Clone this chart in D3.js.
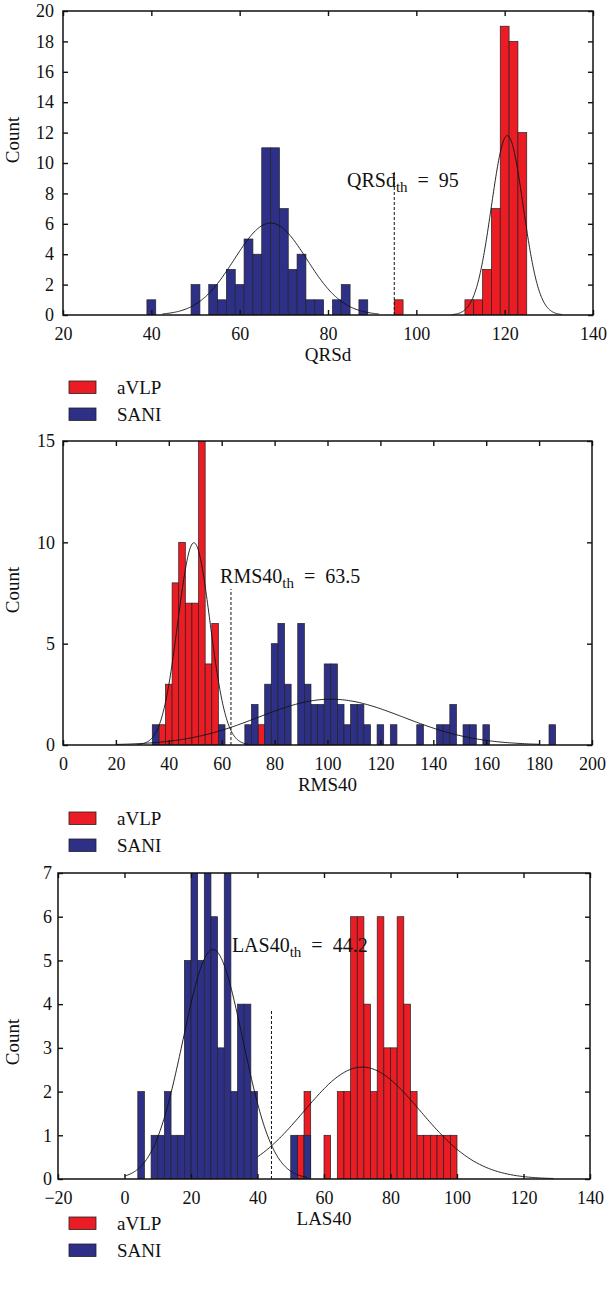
<!DOCTYPE html>
<html lang="en">
<head>
<meta charset="UTF-8">
<title>aVLP / SANI histograms</title>
<script src="https://d3js.org/d3.v7.min.js"></script>
<style>
  body { margin: 0; background: #fff; }
  svg text { font-family: "Liberation Serif", "DejaVu Serif", serif; fill: #111; }
</style>
</head>
<body>
<div id="chart"></div>
<script>
// ---- QRSd ----
const qrsdAvlpX = [96, 112, 114, 116, 118, 120, 122, 124];
const qrsdAvlpN = [1, 1, 1, 3, 7, 19, 18, 12];
const qrsdSaniX = [40, 50, 54, 56, 58, 60, 62, 64, 66, 68, 70, 72, 74, 76, 78, 82, 84, 88];
const qrsdSaniN = [1, 2, 2, 1, 3, 2, 5, 4, 11, 11, 7, 3, 4, 1, 1, 1, 2, 1];
const qrsdXTicks = [20, 40, 60, 80, 100, 120, 140];
const qrsdYTicks = [0, 2, 4, 6, 8, 10, 12, 14, 16, 18, 20];
// fitted normal curves: mean, sd, peak count, drawn from, drawn to
const qrsdAvlpFit = [120.6, 3.6, 11.8, 108, 133];
const qrsdSaniFit = [67, 8.2, 6.05, 42.5, 91.5];
const qrsdThreshold = 95;

// ---- RMS40 ----
const rmsAvlpX = [37.5, 40, 42.5, 45, 47.5, 50, 52.5, 55, 57.5, 75];
const rmsAvlpN = [1, 3, 8, 10, 7, 7, 15, 4, 6, 1];
const rmsSaniX = [35, 60, 70, 72.5, 77.5, 80, 82.5, 85, 90, 92.5, 95, 97.5, 100, 102.5, 105, 107.5,
                  110, 112.5, 115, 120, 125, 135, 142.5, 145, 147.5, 152.5, 155, 160, 185];
const rmsSaniN = [1, 1, 1, 2, 3, 5, 6, 3, 6, 3, 2, 2, 4, 4, 2, 1,
                  2, 2, 1, 1, 1, 1, 1, 1, 2, 1, 1, 1, 1];
const rmsXTicks = [0, 20, 40, 60, 80, 100, 120, 140, 160, 180, 200];
const rmsYTicks = [0, 5, 10, 15];
const rmsAvlpFit = [49.5, 6.1, 9.98, 28, 70];
const rmsSaniFit = [101.3, 27.4, 2.26, 20, 180];
const rmsThreshold = 63.5;

// ---- LAS40 ----
const lasAvlpX = [53, 55, 61, 65, 67, 69, 71, 73, 75, 77, 79, 81, 83, 85, 87, 89, 91, 93, 95, 97, 99];
const lasAvlpN = [1, 2, 1, 2, 2, 6, 6, 4, 2, 6, 3, 3, 6, 4, 2, 1, 1, 1, 1, 1, 1];
const lasSaniX = [5, 9, 11, 13, 15, 17, 19, 21, 23, 25, 27, 29, 31, 33, 35, 37, 39, 51, 55];
const lasSaniN = [2, 1, 1, 2, 1, 1, 5, 7, 5, 7, 6, 3, 7, 2, 4, 4, 2, 1, 1];
const lasXTicks = [-20, 0, 20, 40, 60, 80, 100, 120, 140];
const lasYTicks = [0, 1, 2, 3, 4, 5, 6, 7];
const lasAvlpFit = [71.5, 17.5, 2.56, 40, 129];
const lasSaniFit = [26.6, 9, 5.25, 0, 55];
const lasThreshold = 44.2;

const RED = "#ec1c24", BLUE = "#2e3088";

const panels = [
  { box: [63, 593, 11, 315], xDomain: [20, 140], yDomain: [0, 20], binW: 2,
    xTicks: qrsdXTicks, yTicks: qrsdYTicks, yPad: 9, xName: "QRSd", thName: "QRSd",
    avlp: [qrsdAvlpX, qrsdAvlpN], sani: [qrsdSaniX, qrsdSaniN],
    fits: [qrsdAvlpFit, qrsdSaniFit], th: qrsdThreshold, thTop: 9.4, thLabel: [84.3, 8.4],
    countY: 140, legendY: 381 },
  { box: [63, 592, 441, 745], xDomain: [0, 200], yDomain: [0, 15], binW: 2.5,
    xTicks: rmsXTicks, yTicks: rmsYTicks, yPad: 8, xName: "RMS40", thName: "RMS40",
    avlp: [rmsAvlpX, rmsAvlpN], sani: [rmsSaniX, rmsSaniN],
    fits: [rmsAvlpFit, rmsSaniFit], th: rmsThreshold, thTop: 7.7, thLabel: [59.4, 8.0],
    countY: 590, legendY: 812 },
  { box: [58, 590, 873, 1179], xDomain: [-20, 140], yDomain: [0, 7], binW: 2,
    xTicks: lasXTicks, yTicks: lasYTicks, yPad: 6, xName: "LAS40", thName: "LAS40",
    avlp: [lasAvlpX, lasAvlpN], sani: [lasSaniX, lasSaniN],
    fits: [lasAvlpFit, lasSaniFit], th: lasThreshold, thTop: 3.85, thLabel: [32.3, 5.2],
    countY: 1042, legendY: 1217 }
];

const svg = d3.select("#chart").append("svg")
  .attr("width", 609).attr("height", 1289);

const numFmt = d => d < 0 ? "\u2212" + Math.abs(d) : String(d);

panels.forEach(function(p, i) {
  const [left, right, top, bottom] = p.box;
  const x = d3.scaleLinear().domain(p.xDomain).range([left, right]);
  const y = d3.scaleLinear().domain(p.yDomain).range([bottom, top]);
  const g = svg.append("g");

  g.append("clipPath").attr("id", "clip" + i)
    .append("rect").attr("x", left).attr("y", top)
    .attr("width", right - left).attr("height", bottom - top);
  const plot = g.append("g").attr("clip-path", "url(#clip" + i + ")");

  // bars: aVLP first, SANI on top
  [[p.avlp, RED], [p.sani, BLUE]].forEach(function(s) {
    const rows = s[0][0].map((c, k) => ({ c: c, n: s[0][1][k] }));
    plot.selectAll(null).data(rows).enter().append("rect")
      .attr("x", d => x(d.c - p.binW / 2))
      .attr("width", d => x(d.c + p.binW / 2) - x(d.c - p.binW / 2))
      .attr("y", d => y(d.n))
      .attr("height", d => y(0) - y(d.n))
      .attr("fill", s[1])
      .attr("stroke", "#222")
      .attr("stroke-width", 0.7);
  });

  // fitted normal curves
  const line = d3.line().x(d => x(d[0])).y(d => y(d[1]));
  p.fits.forEach(function(f) {
    const [mu, sd, peak, from, to] = f;
    const pts = d3.range(from, to + 0.001, (to - from) / 200)
      .map(v => [v, peak * Math.exp(-0.5 * Math.pow((v - mu) / sd, 2))]);
    plot.append("path").datum(pts).attr("d", line)
      .attr("fill", "none").attr("stroke", "#111").attr("stroke-width", 0.9);
  });

  // threshold
  g.append("line")
    .attr("x1", x(p.th)).attr("x2", x(p.th))
    .attr("y1", y(0)).attr("y2", y(p.thTop))
    .attr("stroke", "#111").attr("stroke-width", 1)
    .attr("stroke-dasharray", "3,2");
  const t = g.append("text")
    .attr("x", x(p.thLabel[0])).attr("y", y(p.thLabel[1]))
    .attr("fill", "#111")
    .style("font-size", "20px");
  t.append("tspan").text(p.thName);
  t.append("tspan").attr("dy", 5).attr("fill", "#111").style("font-size", "15px").text("th");
  t.append("tspan").attr("dy", -5).text("\u2002=\u2002" + p.th);

  // axes, ticks inside on all four sides
  g.append("g").attr("transform", "translate(0," + bottom + ")")
    .call(d3.axisBottom(x).tickValues(p.xTicks).tickSizeInner(-5).tickSizeOuter(0)
      .tickPadding(12).tickFormat(numFmt));
  g.append("g").attr("transform", "translate(0," + top + ")")
    .call(d3.axisTop(x).tickValues(p.xTicks).tickSizeInner(-5).tickSizeOuter(0).tickFormat(""));
  g.append("g").attr("transform", "translate(" + left + ",0)")
    .call(d3.axisLeft(y).tickValues(p.yTicks).tickSizeInner(-5).tickSizeOuter(0)
      .tickPadding(p.yPad).tickFormat(numFmt));
  g.append("g").attr("transform", "translate(" + right + ",0)")
    .call(d3.axisRight(y).tickValues(p.yTicks).tickSizeInner(-5).tickSizeOuter(0).tickFormat(""));
  g.selectAll(".domain").remove();
  g.selectAll(".tick line").attr("stroke", "#111").attr("stroke-width", 1.4);
  g.selectAll(".tick text")
    .attr("font-family", '"Liberation Serif", serif')
    .style("font-family", '"Liberation Serif", serif')
    .style("font-size", "18px").attr("fill", "#111");

  g.append("rect").attr("x", left).attr("y", top)
    .attr("width", right - left).attr("height", bottom - top)
    .attr("fill", "none").attr("stroke", "#111").attr("stroke-width", 1.5);

  // axis titles
  g.append("text").attr("x", (left + right) / 2).attr("y", bottom + 46)
    .attr("text-anchor", "middle").style("font-size", "19px").text(p.xName);
  g.append("text").attr("transform", "translate(19," + p.countY + ") rotate(-90)")
    .attr("text-anchor", "middle").style("font-size", "19px").text("Count");

  // legend
  [["aVLP", RED], ["SANI", BLUE]].forEach(function(l, k) {
    const ly0 = p.legendY + k * 27;
    g.append("rect").attr("x", 69).attr("y", ly0).attr("width", 27).attr("height", 12.5)
      .attr("fill", l[1]).attr("stroke", "#222").attr("stroke-width", 0.8);
    g.append("text").attr("x", 117).attr("y", ly0 + 12.5)
      .style("font-size", "19px").text(l[0]);
  });
});
</script>
</body>
</html>
